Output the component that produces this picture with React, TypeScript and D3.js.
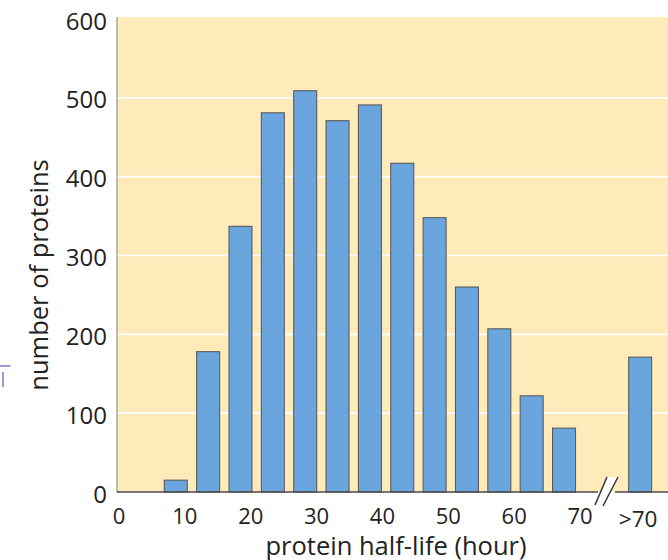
import React from "react";
import * as d3 from "d3";

const bins = ["5-10", "10-15", "15-20", "20-25", "25-30", "30-35", "35-40", "40-45", "45-50", "50-55", "55-60", "60-65", "65-70"];
const counts = [15, 178, 337, 481, 509, 471, 491, 417, 348, 260, 207, 122, 81];
const overLabel = ">70";
const overCount = [171];
const xTicks = [0, 10, 20, 30, 40, 50, 60, 70];
const yTicks = [0, 100, 200, 300, 400, 500, 600];

const W = 668;
const H = 560;
const plotLeft = 117;
const plotRight = 668;
const plotBottom = 492;
const plotTop = 17;

export default function App() {
  const y = d3.scaleLinear().domain([0, 600]).range([plotBottom, 19]);
  const xTick = d3.scaleLinear().domain([0, 70]).range([119, 580]);
  const xBand = d3.scaleBand<string>().domain(bins).range([159.6, 580.2]).paddingInner(0.29).paddingOuter(0.145);
  const xOver = d3.scaleBand<string>().domain([overLabel]).range([624, 656.3]).paddingInner(0.29).paddingOuter(0.145);

  const font = "'Open Sans', 'Noto Sans', sans-serif";
  const barFill = "#6aa6dd";
  const barStroke = "#5b5b5b";
  const breakX = 606;

  return (
    <svg width={W} height={H} style={{ position: "absolute", left: 0, top: 0, background: "#fff" }}>
      <rect x={plotLeft} y={plotTop} width={plotRight - plotLeft} height={plotBottom - plotTop} fill="#ffebb9" />
      {yTicks.filter((t) => t > 0 && t < 600).map((t) => (
        <line key={t} x1={plotLeft} x2={plotRight} y1={y(t)} y2={y(t)} stroke="#fff" strokeWidth={1.6} />
      ))}
      {bins.map((b, i) => (
        <rect key={b} x={xBand(b)} y={y(counts[i])} width={xBand.bandwidth()} height={y(0) - y(counts[i])}
          fill={barFill} stroke={barStroke} strokeWidth={1.1} />
      ))}
      <rect x={xOver(overLabel)} y={y(overCount[0])} width={xOver.bandwidth()} height={y(0) - y(overCount[0])}
        fill={barFill} stroke={barStroke} strokeWidth={1.1} />
      <line x1={plotLeft} x2={plotLeft} y1={plotTop} y2={plotBottom} stroke="#a8a8a8" strokeWidth={1.5} />
      <line x1={plotLeft} x2={breakX - 8} y1={plotBottom} y2={plotBottom} stroke="#4a4a4a" strokeWidth={1.5} />
      <line x1={breakX + 9} x2={plotRight} y1={plotBottom} y2={plotBottom} stroke="#4a4a4a" strokeWidth={1.5} />
      <polygon points={`${breakX - 9},${plotBottom + 12} ${breakX + 1},${plotBottom - 15} ${breakX + 12},${plotBottom - 15} ${breakX},${plotBottom + 14}`} fill="#fff" />
      <line x1={breakX - 11} y1={plotBottom + 13} x2={breakX + 1} y2={plotBottom - 15} stroke="#333" strokeWidth={1.5} />
      <line x1={breakX - 3} y1={plotBottom + 14} x2={breakX + 12} y2={plotBottom - 15} stroke="#333" strokeWidth={1.5} />
      {yTicks.map((t) => (
        <text key={t} x={107} y={y(t) + 1} textAnchor="end" dominantBaseline="central" fontFamily={font} fontSize={24} fill="#222">{t}</text>
      ))}
      {xTicks.map((t) => (
        <text key={t} x={xTick(t)} y={524} textAnchor="middle" fontFamily={font} fontSize={22} fill="#222">{t}</text>
      ))}
      <text x={(xOver(overLabel) ?? 0) + xOver.bandwidth() / 2 - 2} y={527} textAnchor="middle" fontFamily={font} fontSize={22.5} fill="#222">{overLabel}</text>
      <text x={396} y={555} textAnchor="middle" fontFamily={font} fontSize={25.5} fill="#222">protein half-life (hour)</text>
      <text transform={`translate(48,275) rotate(-90)`} textAnchor="middle" fontFamily={font} fontSize={25.5} fill="#222">number of proteins</text>
      <line x1={0} x2={10.5} y1={366} y2={366} stroke="#5a5ab8" strokeWidth={1.2} />
      <line x1={3} x2={3} y1={372} y2={387} stroke="#5a5ab8" strokeWidth={1.2} />
    </svg>
  );
}
